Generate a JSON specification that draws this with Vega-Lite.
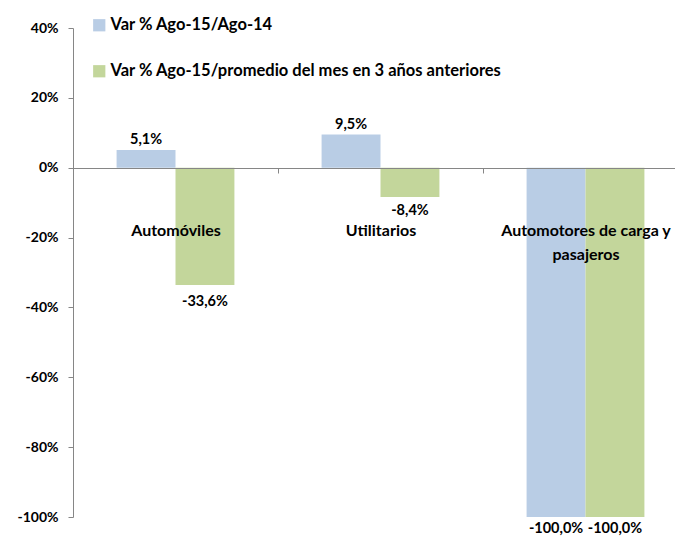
{
  "$schema": "https://vega.github.io/schema/vega-lite/v6.json",
  "width": 602,
  "height": 489,
  "autosize": {"type": "none"},
  "padding": {"left": 73, "top": 28, "right": 0, "bottom": 20},
  "background": "white",
  "config": {
    "view": {"stroke": null},
    "font": "Lato",
    "locale": {
      "number": {"decimal": ",", "thousands": ".", "grouping": [3], "currency": ["", " €"], "minus": "-"}
    }
  },
  "data": {
    "values": [
      {"categoria": "Automóviles", "serie": "Var % Ago-15/Ago-14", "valor": 0.051},
      {"categoria": "Automóviles", "serie": "Var % Ago-15/promedio del mes en 3 años anteriores", "valor": -0.336},
      {"categoria": "Utilitarios", "serie": "Var % Ago-15/Ago-14", "valor": 0.095},
      {"categoria": "Utilitarios", "serie": "Var % Ago-15/promedio del mes en 3 años anteriores", "valor": -0.084},
      {"categoria": "Automotores de carga y pasajeros", "serie": "Var % Ago-15/Ago-14", "valor": -1.0},
      {"categoria": "Automotores de carga y pasajeros", "serie": "Var % Ago-15/promedio del mes en 3 años anteriores", "valor": -1.0}
    ]
  },
  "encoding": {
    "x": {
      "field": "categoria",
      "type": "nominal",
      "sort": null,
      "scale": {"range": [0, 615], "paddingInner": 0, "paddingOuter": 0},
      "axis": {
        "title": null,
        "orient": "bottom",
        "offset": -349,
        "zindex": 1,
        "labelAngle": 0,
        "domainColor": "#868686",
        "tickColor": "#868686",
        "tickSize": 5,
        "tickBand": "extent",
        "labelPadding": 49,
        "labelFont": "Lato",
        "labelFontSize": 16,
        "labelFontWeight": "bold",
        "labelColor": "#000000",
        "labelLimit": 300,
        "labelLineHeight": 24,
        "labelExpr": "datum.value == 'Automotores de carga y pasajeros' ? ['Automotores de carga y', 'pasajeros'] : datum.value"
      }
    },
    "xOffset": {
      "field": "serie",
      "type": "nominal",
      "sort": null,
      "scale": {"paddingInner": 0, "paddingOuter": 0.74}
    },
    "y": {
      "field": "valor",
      "type": "quantitative",
      "scale": {"domain": [-1, 0.4], "nice": false, "zero": false},
      "axis": {
        "title": null,
        "values": [-1, -0.8, -0.6, -0.4, -0.2, 0, 0.2, 0.4],
        "format": ".0%",
        "grid": false,
        "domainColor": "#868686",
        "tickColor": "#868686",
        "tickSize": 5,
        "labelPadding": 10,
        "labelFont": "Lato",
        "labelFontSize": 14,
        "labelFontWeight": "bold",
        "labelColor": "#000000"
      }
    }
  },
  "layer": [
    {
      "mark": {"type": "bar"},
      "encoding": {
        "y2": {"datum": 0},
        "color": {
          "field": "serie",
          "type": "nominal",
          "sort": null,
          "scale": {"range": ["#B9CDE5", "#C3D69B"]},
          "legend": {
            "title": null,
            "orient": "none",
            "legendX": 18,
            "legendY": -11,
            "symbolType": "square",
            "symbolSize": 150,
            "symbolStrokeWidth": 0,
            "labelFont": "Lato",
            "labelFontSize": 16.5,
            "labelFontWeight": "bold",
            "labelColor": "#000000",
            "labelLimit": 500,
            "rowPadding": 29,
            "labelOffset": 3
          }
        }
      }
    },
    {
      "mark": {
        "type": "text",
        "font": "Lato",
        "fontSize": 14.5,
        "fontWeight": "bold",
        "color": "#000000",
        "baseline": "middle",
        "dy": {"expr": "datum.valor >= 0 ? -10 : (datum.valor <= -1 ? 12 : (datum.valor > -0.2 ? 14 : 17))"}
      },
      "encoding": {
        "text": {"field": "valor", "type": "quantitative", "format": ".1%"}
      }
    }
  ]
}
